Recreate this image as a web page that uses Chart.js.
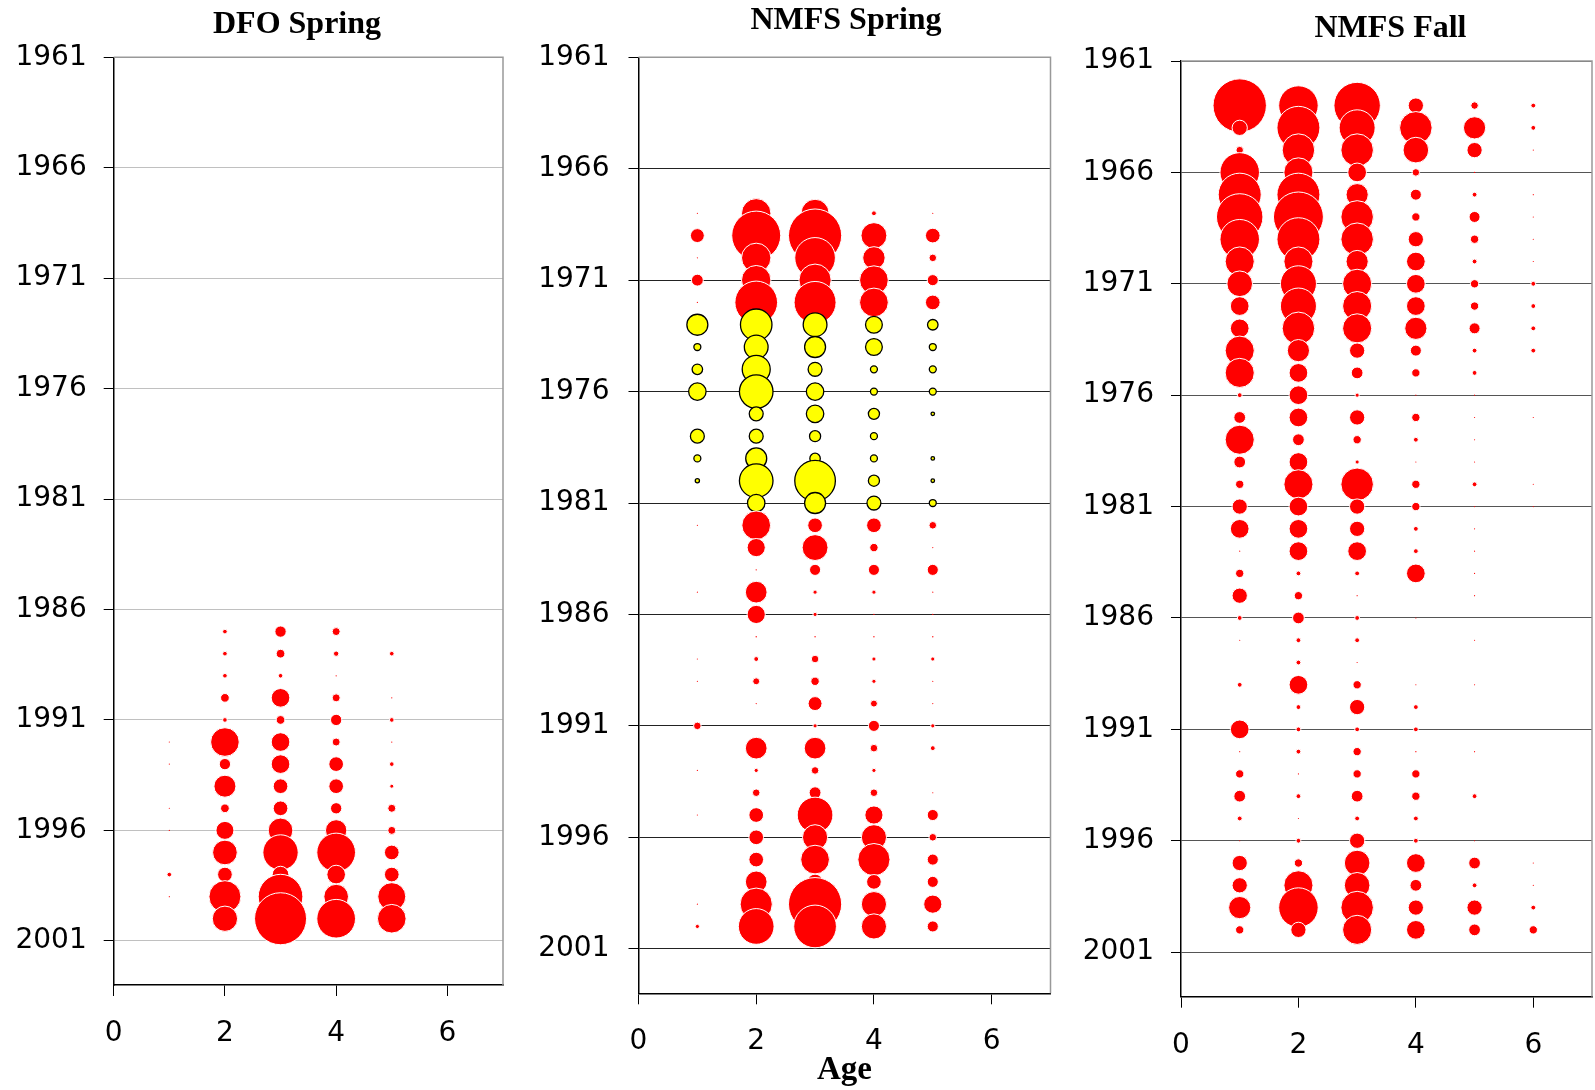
<!DOCTYPE html>
<html>
<head>
<meta charset="utf-8">
<script src="https://cdn.jsdelivr.net/npm/chart.js@4.4.0/dist/chart.umd.min.js"></script>
<style>
html, body { margin: 0; padding: 0; background: #fff; overflow: hidden; width: 1595px; height: 1090px; position: relative; }
canvas { position: absolute; top: 0; }
</style>
</head>
<body>
<canvas id="dfoSpring" width="560" height="1090" style="left:0px"></canvas>
<canvas id="nmfsSpring" width="580" height="1090" style="left:520px"></canvas>
<canvas id="nmfsFall" width="575" height="1090" style="left:1060px"></canvas>
<script>
// tick labels
var yearTicks = [1961, 1966, 1971, 1976, 1981, 1986, 1991, 1996, 2001];
var ageTicks = [0, 2, 4, 6];

// DFO Spring, relative abundance by age (1987-2000)
var dfoYears = [1987, 1988, 1989, 1990, 1991, 1992, 1993, 1994, 1995, 1996, 1997, 1998, 1999, 2000];
var dfoAge1 = [0, 0, 0, 0, 0, 0.3, 0.3, 0, 0.3, 0.3, 0, 5.4, 0.3, 0];
var dfoAge2 = [5.4, 5.4, 5.4, 19, 5.4, 205, 32, 121, 19, 81, 152, 54, 256, 160];
var dfoAge3 = [32, 19, 5.4, 87, 19, 87, 87, 54, 54, 152, 312, 69, 499, 676];
var dfoAge4 = [16, 7.1, 0.4, 16, 32, 16, 54, 54, 32, 114, 374, 87, 152, 374];
var dfoAge5 = [0, 5.4, 0, 0.4, 5.4, 0.4, 5.4, 4, 16, 16, 54, 54, 196, 205];

// NMFS Spring (1968-2000); 1973-1981 shown in yellow
var nmfsSpringYears = [1968, 1969, 1970, 1971, 1972, 1973, 1974, 1975, 1976, 1977, 1978, 1979, 1980, 1981,
  1982, 1983, 1984, 1985, 1986, 1987, 1988, 1989, 1990, 1991, 1992, 1993, 1994, 1995, 1996, 1997, 1998, 1999, 2000];
var nmfsSpringYellowYears = [1973, 1974, 1975, 1976, 1977, 1978, 1979, 1980, 1981];
var nmfsSpringAge1 = [0.3, 44, 0.3, 32, 0.3, 100, 11, 25, 69, 0, 44, 11, 4, 0, 0.3, 0, 0, 0.3, 0, 0, 0.3, 0.3, 0, 13, 0, 0.3, 0, 0.3, 0, 0, 0, 0.3, 4];
var nmfsSpringAge2 = [196, 544, 196, 196, 413, 225, 128, 178, 256, 44, 44, 100, 256, 69, 187, 75, 0.4, 107, 75, 0.4, 5.4, 11, 0.3, 0, 107, 4, 13, 49, 49, 49, 107, 235, 289];
var nmfsSpringAge3 = [178, 642, 374, 235, 400, 128, 100, 44, 69, 69, 28, 25, 374, 100, 49, 152, 28, 4, 4, 0.4, 13, 16, 44, 4, 107, 13, 32, 289, 144, 187, 54, 642, 413];
var nmfsSpringAge4 = [5.4, 152, 114, 187, 187, 64, 64, 11, 11, 28, 11, 11, 28, 44, 49, 16, 28, 4, 0.4, 0.4, 4, 4, 11, 28, 13, 4, 13, 75, 144, 235, 49, 144, 144];
var nmfsSpringAge5 = [0.3, 49, 13, 28, 49, 25, 11, 11, 11, 2.8, 0, 2.8, 2.8, 11, 13, 0.3, 28, 0.3, 0.4, 0.4, 4, 0.3, 0.3, 4, 5.4, 0, 0.3, 28, 13, 28, 28, 75, 28];

// NMFS Fall (1963-2000)
var nmfsFallYears = [1963, 1964, 1965, 1966, 1967, 1968, 1969, 1970, 1971, 1972, 1973, 1974, 1975, 1976, 1977, 1978, 1979, 1980, 1981,
  1982, 1983, 1984, 1985, 1986, 1987, 1988, 1989, 1990, 1991, 1992, 1993, 1994, 1995, 1996, 1997, 1998, 1999, 2000];
var nmfsFallAge1 = [659, 54, 13, 361, 427, 499, 361, 196, 152, 81, 81, 196, 196, 5.4, 32, 196, 32, 16, 54, 81, 0.3, 16, 54, 5.4, 0.3, 0, 5.4, 0, 81, 0.3, 16, 32, 5.4, 0.3, 54, 54, 114, 16];
var nmfsFallAge2 = [361, 427, 245, 196, 427, 576, 427, 196, 300, 300, 245, 114, 81, 81, 81, 32, 81, 196, 81, 81, 81, 5.4, 16, 32, 5.4, 5.4, 81, 5.4, 5.4, 5.4, 0.3, 5.4, 0.3, 5.4, 16, 196, 361, 54];
var nmfsFallAge3 = [499, 300, 245, 81, 114, 245, 245, 114, 196, 196, 196, 54, 32, 4, 54, 16, 4, 245, 54, 54, 81, 5.4, 0.3, 5.4, 5.4, 0.3, 16, 54, 5.4, 16, 16, 32, 5.4, 54, 152, 152, 245, 196];
var nmfsFallAge4 = [54, 245, 152, 13, 28, 16, 54, 81, 81, 81, 114, 28, 16, 0.3, 16, 5.4, 0.3, 16, 16, 5.4, 5.4, 81, 0, 0.3, 0, 0, 0.3, 5.4, 5.4, 0.4, 16, 16, 5.4, 5.4, 81, 32, 54, 81];
var nmfsFallAge5 = [13, 114, 54, 0.4, 5.4, 28, 16, 5.4, 16, 16, 28, 5.4, 5.4, 0.3, 0.3, 0.3, 0.3, 5.4, 0.3, 0.3, 0.3, 0.3, 0.3, 0, 0.3, 0, 0.3, 0, 0, 0.3, 0, 5.4, 0, 0.3, 32, 5.4, 54, 32];
var nmfsFallAge6 = [5.4, 5.4, 0.3, 0, 0.3, 0.3, 0.3, 0.3, 5.4, 5.4, 5.4, 5.4, 0, 0, 0.3, 0, 0, 0.3, 0.3, 0, 0, 0, 0, 0, 0, 0, 0, 0, 0, 0, 0, 0, 0, 0, 0.3, 0.3, 5.4, 16];

Chart.defaults.font.family = 'DejaVu Sans';
Chart.defaults.color = '#000';

// gray top / right edge of the plot box
var framePlugin = {
  id: 'frame',
  afterDraw: function (chart) {
    var a = chart.chartArea, ctx = chart.ctx;
    ctx.save();
    ctx.strokeStyle = '#999999';
    ctx.lineWidth = 1.5;
    ctx.beginPath();
    ctx.moveTo(a.left, a.top);
    ctx.lineTo(a.right, a.top);
    ctx.lineTo(a.right, a.bottom);
    ctx.stroke();
    ctx.restore();
  }
};

var TITLE_SIZE = 32;
var TICK_SIZE = 28;

function makeChart(id, title, years, ages, g) {
  var canvas = document.getElementById(id);
  var W = canvas.width, H = canvas.height;
  var left = g.chartL - g.left;
  var right = g.chartR - g.left;
  var yellow = g.yellowYears || [];

  function isYellow(c) {
    return c.raw && yellow.indexOf(c.raw.y) >= 0;
  }

  // move the title box so its text is centred at g.titleX
  var titleShift = {
    id: 'titleShift',
    afterLayout: function (chart) {
      var tb = chart.titleBlock;
      if (!tb) return;
      var half = (tb.right - tb.left) / 2, cx = g.titleX - g.left;
      tb.left = cx - half;
      tb.right = cx + half;
    }
  };

  var datasets = ages.map(function (vals, i) {
    var pts = [];
    vals.forEach(function (v, j) {
      if (v > 0) pts.push({ x: i + 1, y: years[j], r: Math.sqrt(v) * g.bubbleScale });
    });
    return {
      label: 'Age ' + (i + 1),
      data: pts,
      backgroundColor: function (c) { return isYellow(c) ? '#ffff00' : '#ff0000'; },
      borderColor: function (c) { return isYellow(c) ? '#000000' : '#ffffff'; },
      borderWidth: function (c) {
        if (isYellow(c)) return 1.3;
        return c.raw && c.raw.r < 1.5 ? 0 : 1;
      }
    };
  });

  var titleLine = TITLE_SIZE * 1.2;

  return new Chart(canvas, {
    type: 'bubble',
    data: { datasets: datasets },
    plugins: [framePlugin, titleShift],
    options: {
      responsive: false,
      animation: false,
      events: [],
      layout: { padding: { left: 0, right: W - right, top: 0, bottom: 0 } },
      plugins: {
        legend: { display: false },
        tooltip: { enabled: false },
        title: {
          display: true,
          text: title,
          color: '#000',
          font: { family: 'Liberation Serif', size: TITLE_SIZE, weight: 'bold' },
          padding: { top: g.titlePadTop, bottom: g.chartT - titleLine - g.titlePadTop }
        }
      },
      scales: {
        x: {
          type: 'linear',
          min: 0,
          max: 7,
          afterBuildTicks: function (s) { s.ticks = ageTicks.map(function (v) { return { value: v }; }); },
          afterFit: function (s) { s.height = H - g.chartB; },
          grid: { drawOnChartArea: false, tickLength: 11, color: '#000', lineWidth: 1 },
          border: { color: '#000', width: 1.5 },
          ticks: {
            padding: 21,
            color: '#000',
            font: { size: TICK_SIZE },
            callback: function (v) { return String(v); }
          },
          title: {
            display: !!g.xTitle,
            text: g.xTitle || '',
            color: '#000',
            font: { family: 'Liberation Serif', size: 33, weight: 'bold' },
            padding: { top: 0, bottom: 0 }
          }
        },
        y: {
          type: 'linear',
          reverse: true,
          min: 1961,
          max: 2003,
          afterBuildTicks: function (s) { s.ticks = yearTicks.map(function (v) { return { value: v }; }); },
          afterFit: function (s) { s.width = left; },
          grid: { color: g.gridColor, lineWidth: 1, tickColor: '#000', tickLength: 10 },
          border: { color: '#000', width: 1.5 },
          ticks: {
            padding: g.yPad,
            color: '#000',
            font: { size: TICK_SIZE },
            callback: function (v) { return String(v); }
          }
        }
      }
    }
  });
}

makeChart('dfoSpring', 'DFO Spring', dfoYears,
  [dfoAge1, dfoAge2, dfoAge3, dfoAge4, dfoAge5],
  { left: 0, chartL: 113.7, chartR: 503, chartT: 57.3, chartB: 985, titleX: 297, titlePadTop: 5.8,
    gridColor: '#c0c0c0', yPad: 17, bubbleScale: 1 });

makeChart('nmfsSpring', 'NMFS Spring', nmfsSpringYears,
  [nmfsSpringAge1, nmfsSpringAge2, nmfsSpringAge3, nmfsSpringAge4, nmfsSpringAge5],
  { left: 520, chartL: 638.5, chartR: 1050.5, chartT: 57.3, chartB: 993.3, titleX: 846, titlePadTop: 1.3,
    gridColor: '#222222', yPad: 19, bubbleScale: 1.05, yellowYears: nmfsSpringYellowYears, xTitle: 'Age' });

makeChart('nmfsFall', 'NMFS Fall', nmfsFallYears,
  [nmfsFallAge1, nmfsFallAge2, nmfsFallAge3, nmfsFallAge4, nmfsFallAge5, nmfsFallAge6],
  { left: 1060, chartL: 1181, chartR: 1592, chartT: 61, chartB: 996.7, titleX: 1390.5, titlePadTop: 9.5,
    gridColor: '#555555', yPad: 17, bubbleScale: 1.04 });
</script>
</body>
</html>
